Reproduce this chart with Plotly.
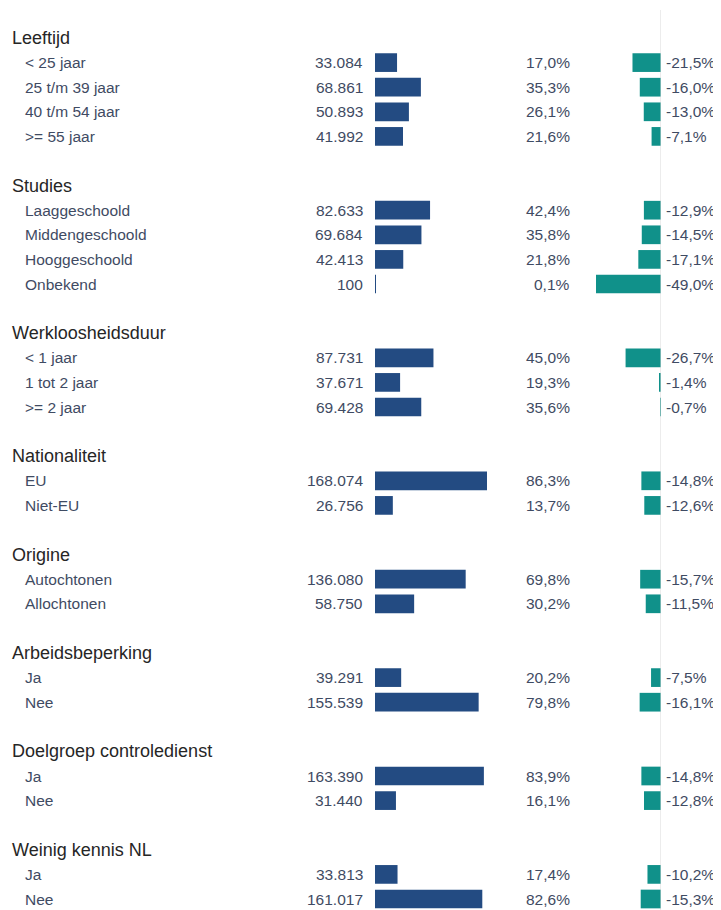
import plotly.graph_objects as go

# ---- data ----
groups = ["Leeftijd", "Studies", "Werkloosheidsduur", "Nationaliteit", "Origine",
          "Arbeidsbeperking", "Doelgroep controledienst", "Weinig kennis NL"]
group_sizes = [4, 4, 3, 2, 2, 2, 2, 2]

categories = ["< 25 jaar", "25 t/m 39 jaar", "40 t/m 54 jaar", ">= 55 jaar",
              "Laaggeschoold", "Middengeschoold", "Hooggeschoold", "Onbekend",
              "< 1 jaar", "1 tot 2 jaar", ">= 2 jaar",
              "EU", "Niet-EU",
              "Autochtonen", "Allochtonen",
              "Ja", "Nee",
              "Ja", "Nee",
              "Ja", "Nee"]
counts = [33084, 68861, 50893, 41992,
          82633, 69684, 42413, 100,
          87731, 37671, 69428,
          168074, 26756,
          136080, 58750,
          39291, 155539,
          163390, 31440,
          33813, 161017]
shares = [17.0, 35.3, 26.1, 21.6,
          42.4, 35.8, 21.8, 0.1,
          45.0, 19.3, 35.6,
          86.3, 13.7,
          69.8, 30.2,
          20.2, 79.8,
          83.9, 16.1,
          17.4, 82.6]
changes = [-21.5, -16.0, -13.0, -7.1,
           -12.9, -14.5, -17.1, -49.0,
           -26.7, -1.4, -0.7,
           -14.8, -12.6,
           -15.7, -11.5,
           -7.5, -16.1,
           -14.8, -12.8,
           -10.2, -15.3]

# ---- layout helpers ----
OFF = 8               # page body margin
W, H = 721 - OFF, 910 - OFF
BLUE = "#234b82"
TEAL = "#10918a"
TXT = "#3f4b63"
HDR = "#262626"
FONT = "Liberation Sans, Arial, sans-serif"


def px(x):
    return (x - OFF) / W


def fmt_int(v):
    return f"{v:,}".replace(",", ".")


def fmt_pct(v):
    return f"{v:.1f}%".replace(".", ",")


# slot positions
header_pos = []
row_pos = []
slot = 0
for g, n in zip(groups, group_sizes):
    header_pos.append(slot)
    slot += 1
    for _ in range(n):
        row_pos.append(slot)
        slot += 1
    slot += 1  # blank

fig = go.Figure()

fig.add_trace(go.Bar(
    x=counts, y=row_pos, orientation="h", width=0.76,
    marker=dict(color=BLUE, line=dict(width=0)),
    xaxis="x", yaxis="y", hoverinfo="skip", showlegend=False))

fig.add_trace(go.Bar(
    x=changes, y=row_pos, orientation="h", width=0.76,
    marker=dict(color=TEAL, line=dict(width=0)),
    xaxis="x2", yaxis="y", hoverinfo="skip", showlegend=False))

ann = []
for g, p in zip(groups, header_pos):
    ann.append(dict(x=px(10), xref="paper", y=p, yref="y", text=g, showarrow=False,
                    xanchor="left", yanchor="middle",
                    font=dict(family=FONT, size=18, color=HDR)))
for lab, c, s, ch, p in zip(categories, counts, shares, changes, row_pos):
    ann.append(dict(x=px(23), xref="paper", y=p, yref="y", text=lab, showarrow=False,
                    xanchor="left", yanchor="middle",
                    font=dict(family=FONT, size=15.5, color=TXT)))
    ann.append(dict(x=px(365), xref="paper", y=p, yref="y", text=fmt_int(c), showarrow=False,
                    xanchor="right", yanchor="middle",
                    font=dict(family=FONT, size=15.5, color=TXT)))
    ann.append(dict(x=px(572), xref="paper", y=p, yref="y", text=fmt_pct(s), showarrow=False,
                    xanchor="right", yanchor="middle",
                    font=dict(family=FONT, size=15.5, color=TXT)))
    ann.append(dict(x=px(664), xref="paper", y=p, yref="y", text=fmt_pct(ch), showarrow=False,
                    xanchor="left", yanchor="middle",
                    font=dict(family=FONT, size=15.5, color=TXT)))

first_c, last_c = 38 - OFF, 899 - OFF
slot_h = (last_c - first_c) / 35.0
y_top = -first_c / slot_h
y_bot = 35 + (H - last_c) / slot_h

fig.update_layout(
    width=W, height=H,
    margin=dict(l=0, r=0, t=0, b=0),
    paper_bgcolor="white", plot_bgcolor="white",
    barmode="overlay",
    xaxis=dict(domain=[px(375), px(487)], range=[0, max(counts)], visible=False, fixedrange=True),
    xaxis2=dict(domain=[px(596), px(661)], range=[min(changes), 0], visible=False,
                anchor="y", fixedrange=True),
    yaxis=dict(range=[y_bot, y_top], visible=False, fixedrange=True),
    annotations=ann,
    shapes=[dict(type="line", xref="x2", x0=0, x1=0, yref="paper", y0=0, y1=1 - 2 / H,
                 line=dict(color="#d9d9d9", width=1), layer="above")],
)

fig.write_html("out.html")
